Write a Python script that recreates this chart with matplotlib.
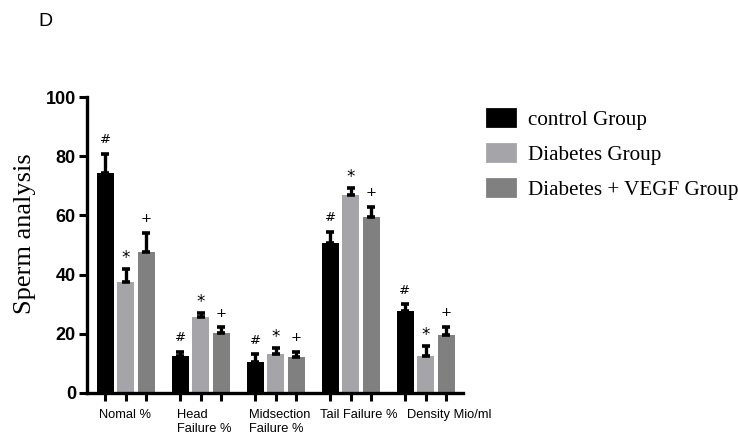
import numpy as np
import matplotlib
matplotlib.use("Agg")
import matplotlib.pyplot as plt
from matplotlib.patches import Patch

categories = ["Nomal %", "Head\nFailure %", "Midsection\nFailure %", "Tail Failure %", "Density Mio/ml"]
groups = ["control Group", "Diabetes Group", "Diabetes + VEGF Group"]

control_mean = [74.5, 12.5, 10.5, 50.6, 27.7]
control_err = [6.4, 1.4, 2.6, 3.9, 2.2]
diabetes_mean = [37.5, 25.5, 13.0, 66.9, 12.5]
diabetes_err = [4.3, 1.4, 2.1, 2.3, 3.3]
vegf_mean = [47.7, 20.1, 12.1, 59.4, 19.4]
vegf_err = [6.5, 2.1, 1.8, 3.6, 3.0]
marks = ["#", "*", "+"]

means = [control_mean, diabetes_mean, vegf_mean]
errs = [control_err, diabetes_err, vegf_err]
colors = ["#000000", "#a4a4a9", "#808080"]

fig = plt.figure(figsize=(7.38, 4.41), dpi=100)
ax = fig.add_axes([0.118, 0.1095, 0.5094, 0.67])

group_gap = 3.66
centers = np.arange(len(categories)) * group_gap
offsets = [-1, 0, 1]
width = 0.83

tick_pos = []
for k in range(3):
    xs = centers + offsets[k]
    tick_pos.extend(xs)
    ax.bar(xs, means[k], width=width, color=colors[k], zorder=2)
    ax.errorbar(xs, means[k], yerr=[np.zeros(len(xs)), errs[k]], fmt="none",
                ecolor="black", elinewidth=2.4, capsize=2.6, capthick=2.6, zorder=3)
    for x, m, e in zip(xs, means[k], errs[k]):
        fs = 12 if marks[k] == "*" else 9.5
        dy = -0.3 if marks[k] == "*" else 1.5
        ax.text(x, m + e + dy + 1.0, marks[k], ha="center", va="bottom",
                fontsize=fs, family="DejaVu Sans", zorder=4)

ax.set_xlim(-1.88, centers[-1] + 1.83)
ax.set_ylim(0, 100)
ax.set_yticks(np.arange(0, 101, 20))
for lbl in ax.get_yticklabels():
    lbl.set_fontweight("bold")
    lbl.set_fontsize(13)
    lbl.set_family("Liberation Sans")

ax.set_xticks(sorted(tick_pos))
ax.set_xticklabels([])
ax.tick_params(axis="both", which="major", width=2.2, length=6, direction="out")
ax.tick_params(axis="y", pad=2)

# group names under each cluster of bars, nudged right like the original layout
label_shift = [-0.05, 0.2, 0.2, 0.4, 1.15]
for c, s, name in zip(centers, label_shift, categories):
    ax.annotate(name, xy=(c + s, 0), xycoords=("data", "axes fraction"),
                xytext=(0, -12), textcoords="offset points",
                ha="center", va="top", multialignment="left",
                fontsize=9.3, family="Liberation Sans", linespacing=1.15)

for side in ["top", "right"]:
    ax.spines[side].set_visible(False)
for side in ["left", "bottom"]:
    ax.spines[side].set_linewidth(2.4)

ax.set_ylabel("Sperm analysis", fontsize=19, family="Liberation Serif")
ax.yaxis.set_label_coords(-0.135, 0.54)

handles = [Patch(facecolor=c, edgecolor=c, linewidth=2, joinstyle="round") for c in colors]
fig.legend(handles, groups, loc="upper left", bbox_to_anchor=(0.648, 0.772),
           frameon=False, prop={"family": "Liberation Serif", "size": 15.2},
           handlelength=1.35, handleheight=0.85, handletextpad=0.6, labelspacing=0.68,
           borderaxespad=0)

fig.text(0.052, 0.952, "D", fontsize=14, family="Liberation Sans", va="center")

fig.savefig("out.png", dpi=100)
